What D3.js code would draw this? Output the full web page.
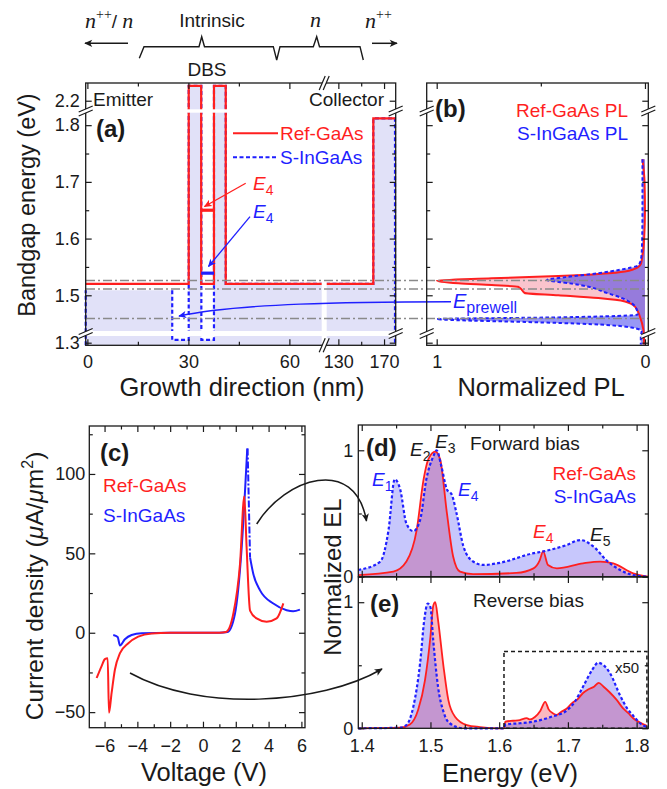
<!DOCTYPE html>
<html>
<head>
<meta charset="utf-8">
<script src="https://cdn.jsdelivr.net/npm/d3@7"></script>
<style>
  body { margin: 0; background: #fff; }
</style>
</head>
<body>
<div id="chart"></div>
<script>
// ---------- values ----------

// (a) band profiles: growth position (nm) and bandgap (eV)
var refPos = [-0.5, 30.1, 30.1, 33.8, 33.8, 37.6, 37.6, 41.1, 41.1, 160.6, 160.6, 180.2];
var refGap = [1.52, 1.52, 2.226, 2.226, 1.52, 1.52, 2.226, 2.226, 1.52, 1.52, 1.812, 1.812];
var sPos = [-0.5, 25.2, 25.2, 30.1, 30.1, 33.85, 33.85, 37.6, 37.6, 41.1, 41.1, 160.6, 160.6, 179.6, 179.6];
var sGap = [1.509, 1.509, 1.305, 1.305, 2.226, 2.226, 1.305, 1.305, 2.226, 2.226, 1.52, 1.52, 1.812, 1.812, 1.2954];
var wellPos = [33.8, 37.6];
var e4Ref = 1.65, e4S = 1.539;
var guideE = [1.526, 1.511, 1.459];

// (b) normalized PL vs energy
var plRefE = [1.74, 1.70, 1.65, 1.60, 1.57, 1.555, 1.55, 1.542, 1.534, 1.53, 1.526, 1.521, 1.518, 1.515, 1.509, 1.504, 1.50, 1.495, 1.489, 1.48, 1.462, 1.44, 1.31, 1.297];
var plRefI = [0.012, 0.002, 0.0, 0.004, 0.012, 0.02, 0.032, 0.096, 0.416, 0.736, 1.0, 0.896, 0.736, 0.61, 0.59, 0.577, 0.416, 0.224, 0.096, 0.048, 0.024, 0.008, 0.005, 0.005];
var plSE = [1.74, 1.65, 1.58, 1.562, 1.553, 1.545, 1.539, 1.532, 1.527, 1.521, 1.515, 1.505, 1.495, 1.485, 1.475, 1.466, 1.461, 1.458, 1.456, 1.453, 1.449, 1.443, 1.436, 1.31, 1.297];
var plSI = [0.012, 0.012, 0.015, 0.02, 0.032, 0.12, 0.224, 0.38, 0.47, 0.36, 0.27, 0.19, 0.11, 0.06, 0.04, 0.035, 0.416, 1.0, 0.896, 0.576, 0.256, 0.064, 0.016, 0.02, 0.02];

// (c) current density (uA/um^2) vs voltage (V)
var ivRefV = [-6.48, -6.18, -5.98, -5.81, -5.73, -5.57, -5.37, -5.06, -4.55, -3.95, -3.13, -2, 0, 1.0, 1.4, 1.85, 2.26, 2.52, 2.66, 2.87, 3.27, 3.88, 4.49, 4.9];
var ivRefJ = [-28.5, -21, -16.6, -16, -50.4, -37.9, -23.3, -12.9, -6.6, -2.5, -0.4, 0, 0, 0, 0.5, 12, 43.6, 86, 53.8, 14, 9, 6.9, 9, 18.5];
var ivSV = [-5.47, -5.2, -5.06, -4.76, -4.35, -3.74, -2, 0, 1.0, 1.5, 1.95, 2.36, 2.7];
var ivSJ = [-1.4, -2.7, -8.0, -4.1, -1.4, -0.3, 0, 0, 0, 0.5, 12, 53.8, 116];
var ivSDropV = [2.72, 2.87];
var ivSDropJ = [116, 47.5];
var ivSTailV = [2.87, 3.07, 3.48, 4.29, 5.1, 5.5, 5.91];
var ivSTailJ = [47.5, 37, 26.7, 18.4, 14.2, 13.5, 14.6];

// (d) forward-bias EL vs energy (eV)
var fwdSE = [1.395, 1.427, 1.439, 1.448, 1.456, 1.465, 1.475, 1.485, 1.494, 1.504, 1.509, 1.516, 1.524, 1.531, 1.538, 1.548, 1.562, 1.577, 1.601, 1.65, 1.664, 1.698, 1.718, 1.737, 1.756, 1.776, 1.795, 1.817];
var fwdS = [0.053, 0.12, 0.37, 0.77, 0.69, 0.42, 0.36, 0.45, 0.77, 0.95, 1.0, 0.87, 0.69, 0.65, 0.50, 0.24, 0.12, 0.093, 0.11, 0.186, 0.2, 0.25, 0.29, 0.24, 0.13, 0.053, 0.013, 0.0];
var fwdRefE = [1.395, 1.446, 1.465, 1.48, 1.49, 1.497, 1.507, 1.514, 1.524, 1.533, 1.543, 1.562, 1.625, 1.65, 1.659, 1.664, 1.671, 1.684, 1.722, 1.747, 1.766, 1.795, 1.817];
var fwdRef = [0.013, 0.04, 0.12, 0.37, 0.77, 0.93, 0.99, 0.93, 0.5, 0.16, 0.04, 0.02, 0.03, 0.066, 0.13, 0.2, 0.093, 0.066, 0.106, 0.12, 0.106, 0.027, 0.0];

// (e) reverse-bias EL vs energy (eV), above 1.607 eV magnified x50
var revSE = [1.395, 1.456, 1.465, 1.475, 1.485, 1.491, 1.496, 1.5, 1.504, 1.511, 1.519, 1.528, 1.548, 1.60, 1.607, 1.609, 1.63, 1.65, 1.675, 1.698, 1.71, 1.722, 1.735, 1.744, 1.752, 1.761, 1.776, 1.786, 1.795, 1.805, 1.815];
var revS = [0, 0.005, 0.026, 0.17, 0.52, 0.86, 0.99, 0.96, 0.7, 0.33, 0.13, 0.04, 0, 0, 0, 0.03, 0.04, 0.053, 0.09, 0.14, 0.21, 0.33, 0.46, 0.52, 0.5, 0.44, 0.26, 0.16, 0.1, 0.04, 0.01];
var revRefE = [1.395, 1.456, 1.47, 1.482, 1.492, 1.5, 1.504, 1.507, 1.511, 1.519, 1.526, 1.536, 1.553, 1.572, 1.60, 1.607, 1.609, 1.62, 1.63, 1.64, 1.645, 1.652, 1.66, 1.667, 1.672, 1.678, 1.684, 1.69, 1.698, 1.706, 1.714, 1.722, 1.73, 1.738, 1.745, 1.752, 1.76, 1.771, 1.78, 1.788, 1.795, 1.805, 1.815];
var revRef = [0, 0.005, 0.03, 0.145, 0.38, 0.73, 0.97, 1.0, 0.86, 0.49, 0.225, 0.09, 0.026, 0.01, 0, 0, 0.053, 0.06, 0.065, 0.08, 0.07, 0.09, 0.14, 0.21, 0.15, 0.12, 0.106, 0.13, 0.155, 0.2, 0.23, 0.28, 0.31, 0.33, 0.36, 0.33, 0.29, 0.225, 0.16, 0.12, 0.08, 0.045, 0.02];
var zoomBox = [1.607, 1.815, 0, 0.61];

// ---------- drawing ----------
var svg = d3.select("#chart").append("svg").attr("width", 667).attr("height", 789);
var sans = "'Liberation Sans', Arial, sans-serif";
var serif = "'Liberation Serif', 'Times New Roman', serif";
var ink = "#1a1a1a", red = "#ff1f1f", blue = "#1f1fff", grey = "#8a8a8a";

function pairs(a, b) { return a.map(function (v, i) { return [v, b[i]]; }); }

var defs = svg.append("defs");
[["arrK", ink], ["arrR", red], ["arrB", blue]].forEach(function (m) {
  defs.append("marker").attr("id", m[0]).attr("viewBox", "0 0 10 10")
    .attr("refX", 9).attr("refY", 5).attr("markerWidth", 10).attr("markerHeight", 8)
    .attr("markerUnits", "userSpaceOnUse").attr("orient", "auto")
    .append("path").attr("d", "M0,0.5L10,5L0,9.5L2.5,5z").attr("fill", m[1]);
});

function label(x, y, str, o) {
  o = o || {};
  return svg.append("text").attr("x", x).attr("y", y)
    .attr("font-family", o.family || sans).attr("font-size", o.size || 19)
    .attr("font-weight", o.weight || null).attr("font-style", o.style || null)
    .attr("text-anchor", o.anchor || "start").attr("fill", o.fill || ink)
    .attr("transform", o.rotate ? "rotate(-90," + x + "," + y + ")" : null)
    .text(str);
}

function eLabel(x, y, sub, color) {
  var t = svg.append("text").attr("x", x).attr("y", y).attr("font-family", sans)
    .attr("font-size", 19).attr("fill", color);
  t.append("tspan").attr("font-style", "italic").text("E");
  t.append("tspan").attr("font-size", 14).attr("dy", 5).text(sub);
  return t;
}

// inside ticks on all four sides through d3 axes
function drawAxes(x, y, o) {
  var xr = d3.extent(x.range()), yr = d3.extent(y.range());
  function put(axis, tx, ty, vals, size, fmt, pad) {
    var g = svg.append("g").attr("transform", "translate(" + tx + "," + ty + ")")
      .call(axis.tickValues(vals).tickSize(-size).tickPadding(pad || 4).tickFormat(fmt || ""));
    g.select(".domain").remove();
    g.attr("font-family", sans).attr("font-size", 18).attr("color", ink);
    g.selectAll("line").attr("stroke-width", 1.2);
  }
  put(d3.axisBottom(x), 0, yr[1], o.xMajor, 6, o.xFormat, o.xPad);
  put(d3.axisBottom(x), 0, yr[1], o.xMinor, 3.5);
  put(d3.axisTop(x), 0, yr[0], o.xMajor, 6);
  put(d3.axisTop(x), 0, yr[0], o.xMinor, 3.5);
  put(d3.axisLeft(y), xr[0], 0, o.yMajor, 6, o.yFormat, o.yPad);
  put(d3.axisLeft(y), xr[0], 0, o.yMinor, 3.5);
  put(d3.axisRight(y), xr[1], 0, o.yMajor, 6);
  put(d3.axisRight(y), xr[1], 0, o.yMinor, 3.5);
  svg.append("rect").attr("x", xr[0]).attr("y", yr[0])
    .attr("width", xr[1] - xr[0]).attr("height", yr[1] - yr[0])
    .attr("fill", "none").attr("stroke", ink).attr("stroke-width", 1.3);
}

function breakY(x, y) {
  svg.append("path").attr("d", "M" + (x - 7) + "," + (y + 5) + "L" + (x + 7) + "," + (y - 1) +
    "L" + (x + 7) + "," + (y - 5) + "L" + (x - 7) + "," + (y + 1) + "Z").attr("fill", "#fff");
  [-2, 2].forEach(function (o) {
    svg.append("line").attr("x1", x - 7).attr("y1", y + o + 3).attr("x2", x + 7).attr("y2", y + o - 3)
      .attr("stroke", ink).attr("stroke-width", 1.2);
  });
}
function breakX(x, y) {
  svg.append("path").attr("d", "M" + (x - 5) + "," + (y + 7) + "L" + (x + 1) + "," + (y - 7) +
    "L" + (x + 5) + "," + (y - 7) + "L" + (x - 1) + "," + (y + 7) + "Z").attr("fill", "#fff");
  [-2, 2].forEach(function (o) {
    svg.append("line").attr("x1", x + o - 3).attr("y1", y + 7).attr("x2", x + o + 3).attr("y2", y - 7)
      .attr("stroke", ink).attr("stroke-width", 1.2);
  });
}

// ===== panel (a) =====
var xA = d3.scaleLinear().domain([-0.5, 69.6, 119.8, 180.2]).range([85.7, 321.7, 326.7, 395.7]);
var yA = d3.scaleLinear().domain([1.2954, 1.3118, 1.437, 1.822, 2.185, 2.231])
  .range([345.3, 336, 331, 112.7, 109.3, 83]);
var lineA = d3.line().x(function (d) { return xA(d[0]); }).y(function (d) { return yA(d[1]); });
var sPts = pairs(sPos, sGap);

svg.append("path").datum(sPts)
  .attr("d", d3.area().x(function (d) { return xA(d[0]); }).y0(yA(1.2954)).y1(function (d) { return yA(d[1]); }))
  .attr("fill", "#e1e1f8");

[sPts.slice(1), [[-0.5, 1.2954], [-0.5, 1.509]]].forEach(function (p) {
  svg.append("path").datum(p).attr("d", lineA).attr("fill", "none")
    .attr("stroke", blue).attr("stroke-width", 2.2).attr("stroke-dasharray", "4,2.5");
});
svg.append("path").datum(pairs(refPos, refGap)).attr("d", lineA).attr("fill", "none")
  .attr("stroke", red).attr("stroke-width", 2.2);

[[e4Ref, red], [e4S, blue]].forEach(function (lv) {
  svg.append("line").attr("x1", xA(wellPos[0])).attr("x2", xA(wellPos[1]))
    .attr("y1", yA(lv[0])).attr("y2", yA(lv[0])).attr("stroke", lv[1]).attr("stroke-width", 3.2);
});

// axis-break gaps
svg.append("rect").attr("x", xA(69.6)).attr("y", 84).attr("width", xA(119.8) - xA(69.6)).attr("height", 260).attr("fill", "#fff");
[[85.7, 395.7], [426.7, 648.3]].forEach(function (r) {
  svg.append("rect").attr("x", r[0]).attr("y", yA(1.437)).attr("width", r[1] - r[0])
    .attr("height", yA(1.3118) - yA(1.437)).attr("fill", "#fff");
  svg.append("rect").attr("x", r[0]).attr("y", yA(2.185)).attr("width", r[1] - r[0])
    .attr("height", yA(1.822) - yA(2.185)).attr("fill", "#fff");
});

// ===== panel (b) =====
var xB = d3.scaleLinear().domain([1.048, -0.016]).range([426.7, 648.3]);
var areaB = d3.area().curve(d3.curveMonotoneY).y(function (d) { return yA(d[0]); })
  .x0(xB(0)).x1(function (d) { return xB(d[1]); });
var lineB = d3.line().curve(d3.curveMonotoneY).y(function (d) { return yA(d[0]); })
  .x(function (d) { return xB(d[1]); });
var plRef = pairs(plRefE, plRefI), plS = pairs(plSE, plSI);
svg.append("path").datum(plRef).attr("d", areaB).attr("fill", "rgba(240,60,90,0.3)");
svg.append("path").datum(plS).attr("d", areaB).attr("fill", "rgba(50,50,235,0.5)");
svg.append("path").datum(plRef).attr("d", lineB).attr("fill", "none").attr("stroke", red).attr("stroke-width", 2);
svg.append("path").datum(plS).attr("d", lineB).attr("fill", "none").attr("stroke", blue)
  .attr("stroke-width", 2).attr("stroke-dasharray", "3.5,2.5");

// guide lines across (a) and (b)
guideE.forEach(function (e) {
  svg.append("line").attr("x1", 86).attr("x2", 648).attr("y1", yA(e)).attr("y2", yA(e))
    .attr("stroke", grey).attr("stroke-width", 1.6).attr("stroke-dasharray", "9,3,2,3");
});

// E4 / E_prewell annotations
svg.append("path").attr("d", "M245.7,183.3L204.5,206.5").attr("stroke", red).attr("stroke-width", 1.3)
  .attr("fill", "none").attr("marker-end", "url(#arrR)");
svg.append("path").attr("d", "M250,216.7L208.5,266.5").attr("stroke", blue).attr("stroke-width", 1.3)
  .attr("fill", "none").attr("marker-end", "url(#arrB)");
eLabel(253, 190, "4", red);
eLabel(253, 218, "4", blue);
svg.append("path").attr("d", "M451,301.7C350,302 240,303 179,316").attr("stroke", blue).attr("stroke-width", 1.4)
  .attr("fill", "none").attr("marker-end", "url(#arrB)");
var ep = svg.append("text").attr("x", 453).attr("y", 308).attr("font-family", sans).attr("font-size", 20).attr("fill", blue);
ep.append("tspan").attr("font-style", "italic").text("E");
ep.append("tspan").attr("font-size", 16).attr("dy", 5).text("prewell");

drawAxes(xA, yA, {
  xMajor: [0, 30, 60, 130, 170], xMinor: [15, 45, 150], xFormat: d3.format("d"), xPad: 10,
  yMajor: [1.3, 1.5, 1.6, 1.7, 1.8, 2.2], yMinor: [1.55, 1.65, 1.75], yFormat: d3.format(".1f"), yPad: 6
});
drawAxes(xB, yA, {
  xMajor: [1, 0], xMinor: [0.5], xFormat: d3.format("d"), xPad: 10,
  yMajor: [1.3, 1.5, 1.6, 1.7, 1.8, 2.2], yMinor: [1.55, 1.65, 1.75]
});
[85.7, 395.7, 426.7, 648.3].forEach(function (x) { breakY(x, 333.5); breakY(x, 111); });
breakX(324.2, 345.3); breakX(324.2, 83);

label(93, 106, "Emitter");
label(384, 106, "Collector", { anchor: "end" });
label(96, 137, "(a)", { size: 24, weight: "bold" });
svg.append("line").attr("x1", 233).attr("x2", 278).attr("y1", 133.3).attr("y2", 133.3).attr("stroke", red).attr("stroke-width", 2);
svg.append("line").attr("x1", 233).attr("x2", 278).attr("y1", 157.3).attr("y2", 157.3).attr("stroke", blue)
  .attr("stroke-width", 2).attr("stroke-dasharray", "4,2.5");
label(280, 140, "Ref-GaAs", { fill: red });
label(280, 164, "S-InGaAs", { fill: blue });
label(435, 117, "(b)", { size: 24, weight: "bold" });
label(628, 117, "Ref-GaAs PL", { fill: red, anchor: "end" });
label(628, 140, "S-InGaAs PL", { fill: blue, anchor: "end" });
label(35, 205, "Bandgap energy (eV)", { size: 23.5, anchor: "middle", rotate: true });
label(242, 396, "Growth direction (nm)", { size: 25.5, anchor: "middle" });
label(541, 396, "Normalized PL", { size: 25.5, anchor: "middle" });

// top layer annotation
label(207, 76, "DBS", { anchor: "middle" });
label(212, 27, "Intrinsic", { anchor: "middle" });
var nl = svg.append("text").attr("x", 85).attr("y", 28).attr("font-family", serif).attr("font-size", 22).attr("fill", ink);
nl.append("tspan").attr("font-style", "italic").text("n");
nl.append("tspan").attr("font-size", 14).attr("dy", -9).text("++");
nl.append("tspan").attr("dy", 9).attr("font-family", sans).attr("font-size", 19).text("/ ");
nl.append("tspan").attr("font-style", "italic").text("n");
label(310, 27, "n", { family: serif, style: "italic", size: 22 });
var nr = svg.append("text").attr("x", 365).attr("y", 28).attr("font-family", serif).attr("font-size", 22).attr("fill", ink);
nr.append("tspan").attr("font-style", "italic").text("n");
nr.append("tspan").attr("font-size", 14).attr("dy", -9).text("++");
svg.append("path").attr("d", "M139.3,58.3L144,46.7L199,46.7L201.7,36.7L204.5,46.7L273.3,46.7L276.7,60L280,46.7L313.3,46.7L316.7,36.7L319.5,46.7L360,46.7L363.3,60")
  .attr("fill", "none").attr("stroke", ink).attr("stroke-width", 1.4);
svg.append("line").attr("x1", 128).attr("y1", 43.3).attr("x2", 85).attr("y2", 43.3)
  .attr("stroke", ink).attr("stroke-width", 1.5).attr("marker-end", "url(#arrK)");
svg.append("line").attr("x1", 372).attr("y1", 43.3).attr("x2", 397).attr("y2", 43.3)
  .attr("stroke", ink).attr("stroke-width", 1.5).attr("marker-end", "url(#arrK)");

// ===== panel (c) =====
var xC = d3.scaleLinear().domain([-6.93, 6.22]).range([89.3, 305]);
var yC = d3.scaleLinear().domain([-59.8, 130.2]).range([727.7, 426]);
var lineC = d3.line().curve(d3.curveMonotoneX).x(function (d) { return xC(d[0]); }).y(function (d) { return yC(d[1]); });
svg.append("path").datum(pairs(ivSV, ivSJ)).attr("d", lineC).attr("fill", "none").attr("stroke", blue).attr("stroke-width", 2);
svg.append("path").datum(pairs(ivSTailV, ivSTailJ)).attr("d", lineC).attr("fill", "none").attr("stroke", blue).attr("stroke-width", 2);
svg.append("path").datum(pairs(ivSDropV, ivSDropJ)).attr("d", lineC).attr("fill", "none").attr("stroke", blue)
  .attr("stroke-width", 2).attr("stroke-dasharray", "7,2,2,2");
svg.append("path").datum(pairs(ivRefV, ivRefJ)).attr("d", lineC).attr("fill", "none").attr("stroke", red).attr("stroke-width", 2);
drawAxes(xC, yC, {
  xMajor: [-6, -4, -2, 0, 2, 4, 6], xMinor: [-5, -3, -1, 1, 3, 5], xFormat: d3.format("d"), xPad: 12,
  yMajor: [-50, 0, 50, 100], yMinor: [-25, 25, 75, 125], yFormat: d3.format("d"), yPad: 4
});
label(100, 461, "(c)", { size: 24, weight: "bold" });
label(103, 492, "Ref-GaAs", { fill: red });
label(103, 522, "S-InGaAs", { fill: blue });
var yt = svg.append("text").attr("x", 43).attr("y", 586).attr("font-family", sans).attr("font-size", 24.5)
  .attr("text-anchor", "middle").attr("fill", ink).attr("transform", "rotate(-90,43,586)");
yt.append("tspan").text("Current density (");
yt.append("tspan").attr("font-style", "italic").text("\u03bc");
yt.append("tspan").text("A/");
yt.append("tspan").attr("font-style", "italic").text("\u03bc");
yt.append("tspan").text("m");
yt.append("tspan").attr("font-size", 16).attr("dy", -10).text("2");
yt.append("tspan").attr("dy", 10).text(")");
label(204, 781, "Voltage (V)", { size: 25.5, anchor: "middle" });

// ===== panels (d) and (e) =====
var xD = d3.scaleLinear().domain([1.395, 1.817]).range([358.3, 648.3]);
var yD = d3.scaleLinear().domain([0, 1.2]).range([576.7, 425]);
var yEr = d3.scaleLinear().domain([0, 1.2]).range([728.3, 577]);

function spectra(y, ref, s, refFill, sFill) {
  var area = d3.area().curve(d3.curveMonotoneX).x(function (d) { return xD(d[0]); })
    .y0(y(0)).y1(function (d) { return y(d[1]); });
  var line = d3.line().curve(d3.curveMonotoneX).x(function (d) { return xD(d[0]); }).y(function (d) { return y(d[1]); });
  svg.append("path").datum(ref).attr("d", area).attr("fill", refFill);
  svg.append("path").datum(s).attr("d", area).attr("fill", sFill);
  svg.append("path").datum(ref).attr("d", line).attr("fill", "none").attr("stroke", red).attr("stroke-width", 1.8);
  svg.append("path").datum(s).attr("d", line).attr("fill", "none").attr("stroke", blue)
    .attr("stroke-width", 2.2).attr("stroke-dasharray", "3,2.2");
}
spectra(yD, pairs(fwdRefE, fwdRef), pairs(fwdSE, fwdS), "rgba(245,70,90,0.38)", "rgba(70,70,245,0.3)");
spectra(yEr, pairs(revRefE, revRef), pairs(revSE, revS), "rgba(245,70,90,0.38)", "rgba(70,70,245,0.3)");

svg.append("rect").attr("x", xD(zoomBox[0])).attr("y", yEr(zoomBox[3]))
  .attr("width", xD(zoomBox[1]) - xD(zoomBox[0])).attr("height", yEr(zoomBox[2]) - yEr(zoomBox[3]))
  .attr("fill", "none").attr("stroke", ink).attr("stroke-width", 1.5).attr("stroke-dasharray", "4,3");
label(615, 673, "x50", { size: 15 });

var eTicks = [1.4, 1.5, 1.6, 1.7, 1.8], eMinor = [1.45, 1.55, 1.65, 1.75];
drawAxes(xD, yD, { xMajor: eTicks, xMinor: eMinor, yMajor: [0, 1], yMinor: [0.5], yFormat: d3.format("d"), yPad: 5 });
drawAxes(xD, yEr, {
  xMajor: eTicks, xMinor: eMinor, xFormat: d3.format(".1f"), xPad: 11,
  yMajor: [0, 1], yMinor: [0.5], yFormat: d3.format("d"), yPad: 5
});

label(366, 456, "(d)", { size: 24, weight: "bold" });
eLabel(410, 456, "2", ink);
eLabel(435, 448, "3", ink);
label(470, 450, "Forward bias");
label(636, 480, "Ref-GaAs", { fill: red, anchor: "end" });
label(636, 503, "S-InGaAs", { fill: blue, anchor: "end" });
eLabel(372, 486, "1", blue);
eLabel(458, 496, "4", blue);
eLabel(533, 538, "4", red);
eLabel(590, 541, "5", ink);
label(370, 612, "(e)", { size: 24, weight: "bold" });
label(473, 607, "Reverse bias");
label(341, 577, "Normalized EL", { size: 24, anchor: "middle", rotate: true });
label(510, 782, "Energy (eV)", { size: 25.5, anchor: "middle" });

// curved arrows from (c) into (d) and (e)
svg.append("path").attr("d", "M256.7,524C285,478 355,455 366.5,521").attr("fill", "none")
  .attr("stroke", ink).attr("stroke-width", 1.5).attr("marker-end", "url(#arrK)");
svg.append("path").attr("d", "M130,673C200,712 320,705 382,669").attr("fill", "none")
  .attr("stroke", ink).attr("stroke-width", 1.5).attr("marker-end", "url(#arrK)");
</script>
</body>
</html>
